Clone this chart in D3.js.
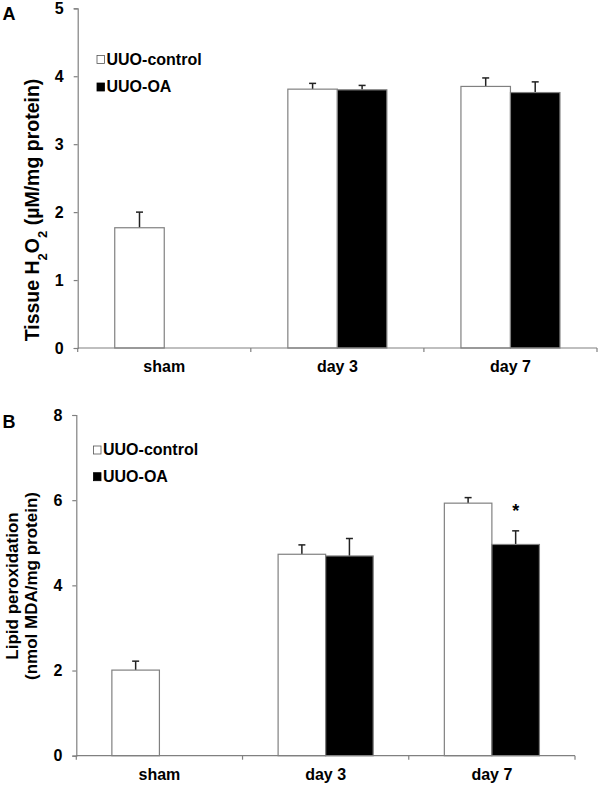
<!DOCTYPE html>
<html>
<head>
<meta charset="utf-8">
<script src="https://cdn.jsdelivr.net/npm/d3@7/dist/d3.min.js"></script>
<style>
  html, body { margin: 0; padding: 0; background: #fff; }
  svg { display: block; font-family: "Liberation Sans", Arial, sans-serif; font-weight: bold; }
</style>
</head>
<body>
<svg id="chart" width="600" height="785"></svg>
<script>
// ---- data ----
const categories = ["sham", "day 3", "day 7"];
const seriesNames = ["UUO-control", "UUO-OA"];

const h2o2Control    = [1.77, 3.81, 3.85];
const h2o2ControlErr = [0.23, 0.085, 0.125];
const h2o2OA         = [null, 3.80, 3.76];
const h2o2OAErr      = [null, 0.065, 0.157];
const h2o2Ticks      = [0, 1, 2, 3, 4, 5];

const lipidControl    = [2.01, 4.73, 5.93];
const lipidControlErr = [0.21, 0.22, 0.13];
const lipidOA         = [null, 4.69, 4.96];
const lipidOAErr      = [null, 0.41, 0.32];
const lipidTicks      = [0, 2, 4, 6, 8];
const lipidSignificance = [null, null, "*"];

const svg = d3.select("#chart");
const axisColor = "#808080";

function panel(cfg) {
  const g = svg.append("g");
  const x = d3.scaleBand().domain(categories).range([cfg.x0, cfg.x1]).padding(0);
  const y = d3.scaleLinear().domain([0, cfg.ymax]).range([cfg.y0, cfg.y1]);
  const bw = x.bandwidth() * 0.286;

  const series = [
    { vals: cfg.control, errs: cfg.controlErr, fill: "#fff", off: -bw },
    { vals: cfg.oa, errs: cfg.oaErr, fill: "#000", off: 0 }
  ];
  series.forEach(s => {
    categories.forEach((c, i) => {
      const v = s.vals[i];
      if (v == null) return;
      const cx = x(c) + x.bandwidth() / 2;
      const e = s.errs[i];
      const ex = cx + s.off + bw / 2;
      g.append("line").attr("x1", ex).attr("x2", ex)
        .attr("y1", y(v)).attr("y2", y(v + e))
        .attr("stroke", "#222").attr("stroke-width", 1.5);
      g.append("line").attr("x1", ex - 3.5).attr("x2", ex + 3.5)
        .attr("y1", y(v + e)).attr("y2", y(v + e))
        .attr("stroke", "#222").attr("stroke-width", 1.5);
      g.append("rect")
        .attr("x", cx + s.off).attr("y", y(v))
        .attr("width", bw).attr("height", y(0) - y(v))
        .attr("fill", s.fill).attr("stroke", axisColor).attr("stroke-width", 1.2);
    });
  });

  // y axis
  const ya = g.append("g").attr("transform", `translate(${cfg.x0},0)`)
    .call(d3.axisLeft(y).tickValues(cfg.ticks).tickFormat(d3.format("d")).tickSize(4).tickPadding(10));
  ya.select(".domain").attr("stroke", axisColor).attr("stroke-width", 1.2);
  ya.selectAll(".tick line").attr("stroke", axisColor).attr("stroke-width", 1.2);
  ya.selectAll(".tick text").attr("fill", "#000").style("font-size", "16px")
    .style("font-family", '"Liberation Sans", Arial, sans-serif').style("font-weight", "bold");

  // x axis
  const xa = g.append("g").attr("transform", `translate(0,${cfg.y0})`);
  xa.append("line").attr("x1", cfg.x0).attr("x2", cfg.x1).attr("y1", 0).attr("y2", 0)
    .attr("stroke", axisColor).attr("stroke-width", 1.2);
  const bounds = categories.map(c => x(c)).concat([cfg.x1]);
  bounds.forEach(b => {
    xa.append("line").attr("x1", b).attr("x2", b).attr("y1", 0).attr("y2", 4)
      .attr("stroke", axisColor).attr("stroke-width", 1.2);
  });
  categories.forEach(c => {
    xa.append("text").attr("x", x(c) + x.bandwidth() / 2).attr("y", 24)
      .attr("text-anchor", "middle").style("font-size", "16px").text(c);
  });

  // legend
  seriesNames.forEach((n, i) => {
    const ly = cfg.legY + i * cfg.legGap;
    g.append("rect").attr("x", cfg.legX).attr("y", ly - 9).attr("width", 7.5).attr("height", 8)
      .attr("fill", i === 0 ? "#fff" : "#000").attr("stroke", i === 0 ? "#555" : "#000").attr("stroke-width", 0.8);
    g.append("text").attr("x", cfg.legX + 9.5).attr("y", ly).style("font-size", "16px").text(n);
  });

  g.append("text").attr("x", cfg.letterX).attr("y", cfg.letterY).style("font-size", "18px").text(cfg.letter);

  return { g, x, y, bw };
}

// Panel A
const A = panel({
  x0: 77.7, x1: 597, y0: 348, y1: 8.3, ymax: 5, ticks: h2o2Ticks,
  control: h2o2Control, controlErr: h2o2ControlErr, oa: h2o2OA, oaErr: h2o2OAErr,
  legX: 97, legY: 64.5, legGap: 27.5, letter: "A", letterX: 2.5, letterY: 19.5
});
const tA = A.g.append("text")
  .attr("transform", "translate(39,210) rotate(-90)")
  .attr("text-anchor", "middle").style("font-size", "19.5px");
tA.append("tspan").text("Tissue H");
tA.append("tspan").attr("baseline-shift", "sub").style("font-size", "13px").text("2");
tA.append("tspan").text("O");
tA.append("tspan").attr("baseline-shift", "sub").style("font-size", "13px").text("2");
tA.append("tspan").text(" (\u00b5M/mg protein)");

// Panel B
const B = panel({
  x0: 76.3, x1: 575, y0: 755.7, y1: 415, ymax: 8, ticks: lipidTicks,
  control: lipidControl, controlErr: lipidControlErr, oa: lipidOA, oaErr: lipidOAErr,
  legX: 93.5, legY: 455, legGap: 26.7, letter: "B", letterX: 2.5, letterY: 427.5
});
const tB = B.g.append("text")
  .attr("transform", "translate(18,586) rotate(-90)")
  .attr("text-anchor", "middle").style("font-size", "17px");
tB.append("tspan").attr("x", 0).attr("dy", 0).text("Lipid peroxidation");
tB.append("tspan").attr("x", 0).attr("dy", 19).text("(nmol MDA/mg protein)");

categories.forEach((c, i) => {
  const s = lipidSignificance[i];
  if (!s) return;
  const cx = B.x(c) + B.x.bandwidth() / 2 + B.bw / 2;
  B.g.append("text").attr("x", cx).attr("y", B.y(lipidOA[i] + lipidOAErr[i]) - 14)
    .attr("text-anchor", "middle").style("font-size", "18px").text(s);
});
</script>
</body>
</html>
